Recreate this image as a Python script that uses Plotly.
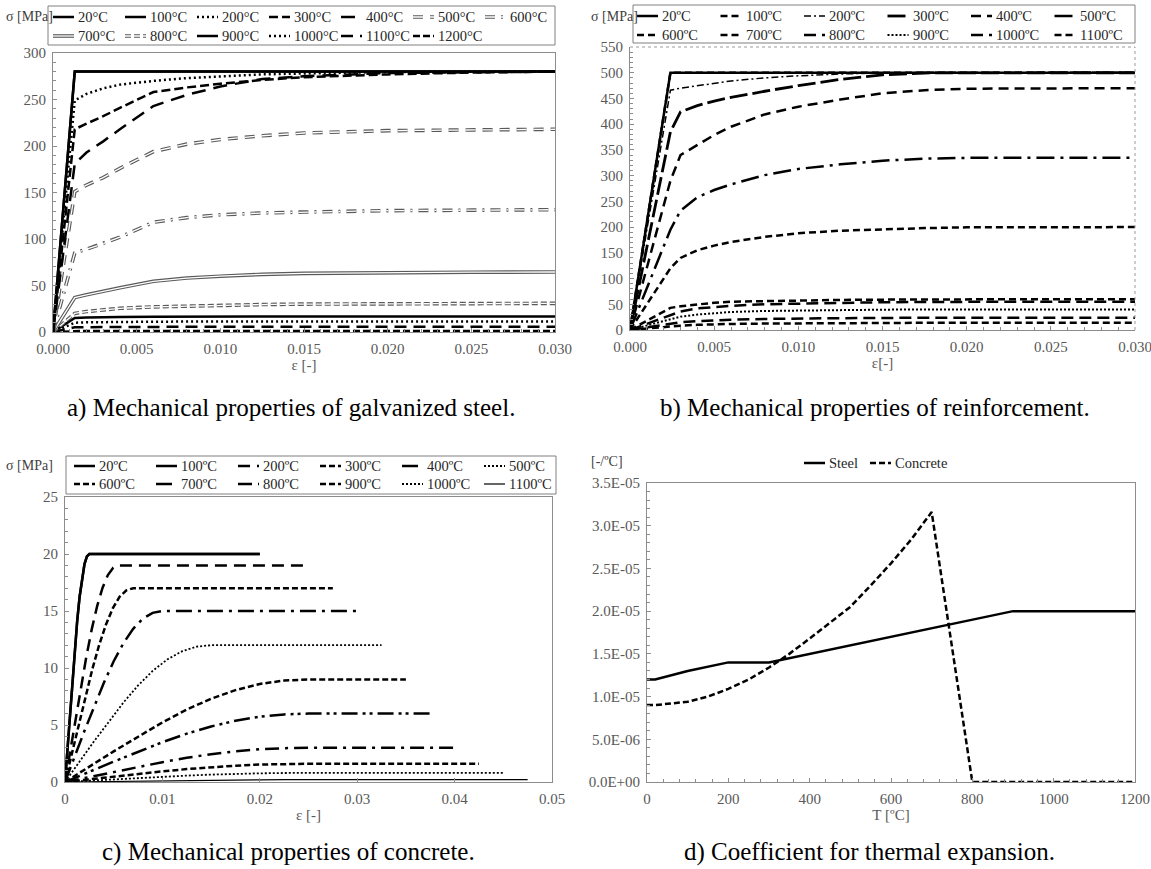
import plotly.graph_objects as go

W, H = 1151, 869
SERIF = "Liberation Serif, Times New Roman, DejaVu Serif, serif"
AXC = "#8c8c8c"
TXT = "#595959"

# ---------------- Panel a: galvanized steel ----------------
A_TEMPS = ["20°C", "100°C", "200°C", "300°C", "400°C", "500°C", "600°C",
           "700°C", "800°C", "900°C", "1000°C", "1100°C", "1200°C"]
A_STRAIN = [0, 0.0013, 0.002, 0.003, 0.004, 0.006, 0.008, 0.010, 0.0125, 0.015, 0.020, 0.025, 0.030]
A_20 = [0, 280, 280, 280, 280, 280, 280, 280, 280, 280, 280, 280, 280]
A_100 = [0, 280, 280, 280, 280, 280, 280, 280, 280, 280, 280, 280, 280]
A_200 = [0, 249, 256, 262, 266, 270, 273, 275, 277, 278, 279.5, 280, 280]
A_300 = [0, 218, 224, 232, 241, 258, 263, 267, 271, 274, 277, 279, 280]
A_400 = [0, 181, 193, 205, 218, 243, 255, 264, 272, 275, 278.5, 279.5, 280]
A_500 = [0, 151, 158, 166, 176, 194, 202, 207, 211, 214, 216.5, 217.5, 218]
A_600 = [0, 85, 89, 95, 102, 118, 123, 126, 128, 129, 130.5, 131, 131.5]
A_700 = [0, 37, 40, 44, 47.5, 54.5, 58, 60, 62, 63, 64, 64.3, 64.5]
A_800 = [0, 20, 22, 24, 25.5, 27, 28, 28.8, 29.5, 30, 30.4, 30.6, 30.8]
A_900 = [0, 15, 15.5, 16, 16.2, 16.5, 16.6, 16.7, 16.8, 16.8, 16.8, 16.8, 16.8]
A_1000 = [0, 10, 10.4, 10.7, 10.9, 11.1, 11.2, 11.2, 11.2, 11.2, 11.2, 11.2, 11.2]
A_1100 = [0, 5, 5.2, 5.4, 5.5, 5.6, 5.6, 5.6, 5.6, 5.6, 5.6, 5.6, 5.6]
A_1200 = [0, 1.2, 1.2, 1.2, 1.2, 1.2, 1.2, 1.2, 1.2, 1.2, 1.2, 1.2, 1.2]
A_SERIES = [A_20, A_100, A_200, A_300, A_400, A_500, A_600, A_700, A_800,
            A_900, A_1000, A_1100, A_1200]

# ---------------- Panel b: reinforcement ----------------
B_TEMPS = ["20ºC", "100ºC", "200ºC", "300ºC", "400ºC", "500ºC",
           "600ºC", "700ºC", "800ºC", "900ºC", "1000ºC", "1100ºC"]
B_STRAIN = [0, 0.0024, 0.003, 0.004, 0.005, 0.006, 0.008, 0.010, 0.0125, 0.015, 0.0175, 0.020, 0.025, 0.030]
B_20 = [0, 500, 500, 500, 500, 500, 500, 500, 500, 500, 500, 500, 500, 500]
B_100 = [0, 500, 500, 500, 500, 500, 500, 500, 500, 500, 500, 500, 500, 500]
B_200 = [0, 466, 470, 475, 480, 484, 490, 494, 497.5, 499.5, 500, 500, 500, 500]
B_300 = [0, 385, 424, 436, 445, 452, 464, 475, 487, 496, 499.5, 500, 500, 500]
B_400 = [0, 290, 340, 360, 379, 395, 419, 434, 448, 460, 466, 469, 470, 470]
B_500 = [0, 195, 232, 258, 272, 283, 301, 313, 322, 329, 333, 334.5, 335, 335]
B_600 = [0, 120, 140, 155, 164, 171, 181, 188, 193, 196, 198, 199.5, 200, 200]
B_700 = [0, 43, 46, 50, 53, 55, 56.5, 57.5, 58.5, 59, 59.5, 60, 60, 60]
B_800 = [0, 30, 36, 42, 45, 47, 50, 51.5, 53, 54, 54.5, 55, 55, 55]
B_900 = [0, 22, 26, 30, 33, 35, 37, 38, 39, 39.5, 40, 40, 40, 40]
B_1000 = [0, 13, 15, 17, 19, 20, 21.5, 22.5, 23, 23.5, 24, 24, 24, 24]
B_1100 = [0, 7, 8.5, 10, 11, 11.8, 12.5, 13, 13.5, 14, 14, 14, 14, 14]
B_SERIES = [B_20, B_100, B_200, B_300, B_400, B_500, B_600, B_700, B_800,
            B_900, B_1000, B_1100]

# ---------------- Panel c: concrete ----------------
C_TEMPS = ["20ºC", "100ºC", "200ºC", "300ºC", "400ºC", "500ºC",
           "600ºC", "700ºC", "800ºC", "900ºC", "1000ºC", "1100ºC"]
C_EPS_20 = [0, 0.0005, 0.001, 0.00125, 0.0015, 0.00175, 0.002, 0.00225, 0.0025, 0.02]
C_SIG_20 = [0, 5.98, 11.63, 14.12, 16.25, 17.93, 19.11, 19.79, 20, 20]
C_EPS_100 = [0, 0.0005, 0.001, 0.00125, 0.0015, 0.00175, 0.002, 0.00225, 0.0025, 0.02]
C_SIG_100 = [0, 5.98, 11.63, 14.12, 16.25, 17.93, 19.11, 19.79, 20, 20]
C_EPS_200 = [0, 0.0011, 0.0022, 0.00275, 0.0033, 0.00385, 0.0044, 0.00495, 0.0055, 0.025]
C_SIG_200 = [0, 5.68, 11.04, 13.41, 15.43, 17.02, 18.15, 18.79, 19, 19]
C_EPS_300 = [0, 0.0014, 0.0028, 0.0035, 0.0042, 0.0049, 0.0056, 0.0063, 0.007, 0.0275]
C_SIG_300 = [0, 5.08, 9.88, 12.0, 13.80, 15.23, 16.24, 16.81, 17, 17]
C_EPS_400 = [0, 0.002, 0.004, 0.005, 0.006, 0.007, 0.008, 0.009, 0.01, 0.03]
C_SIG_400 = [0, 4.49, 8.72, 10.59, 12.18, 13.44, 14.33, 14.84, 15, 15]
C_EPS_500 = [0, 0.003, 0.006, 0.0075, 0.009, 0.0105, 0.012, 0.0135, 0.015, 0.0325]
C_SIG_500 = [0, 3.59, 6.97, 8.47, 9.74, 10.75, 11.46, 11.87, 12, 12]
C_EPS_600 = [0, 0.005, 0.01, 0.0125, 0.015, 0.0175, 0.02, 0.0225, 0.025, 0.035]
C_SIG_600 = [0, 2.69, 5.23, 6.35, 7.31, 8.06, 8.60, 8.90, 9, 9]
C_EPS_700 = [0, 0.005, 0.01, 0.0125, 0.015, 0.0175, 0.02, 0.0225, 0.025, 0.0375]
C_SIG_700 = [0, 1.79, 3.49, 4.24, 4.87, 5.38, 5.73, 5.93, 6, 6]
C_EPS_800 = [0, 0.005, 0.01, 0.0125, 0.015, 0.0175, 0.02, 0.0225, 0.025, 0.04]
C_SIG_800 = [0, 0.90, 1.74, 2.12, 2.44, 2.69, 2.87, 2.97, 3, 3]
C_EPS_900 = [0, 0.005, 0.01, 0.0125, 0.015, 0.0175, 0.02, 0.0225, 0.025, 0.0425]
C_SIG_900 = [0, 0.48, 0.93, 1.13, 1.30, 1.43, 1.53, 1.58, 1.6, 1.6]
C_EPS_1000 = [0, 0.005, 0.01, 0.0125, 0.015, 0.0175, 0.02, 0.0225, 0.025, 0.045]
C_SIG_1000 = [0, 0.24, 0.46, 0.56, 0.65, 0.72, 0.76, 0.79, 0.8, 0.8]
C_EPS_1100 = [0, 0.005, 0.01, 0.0125, 0.015, 0.0175, 0.02, 0.0225, 0.025, 0.0475]
C_SIG_1100 = [0, 0.06, 0.12, 0.14, 0.16, 0.18, 0.19, 0.2, 0.2, 0.2]
C_SERIES = [(C_EPS_20, C_SIG_20), (C_EPS_100, C_SIG_100), (C_EPS_200, C_SIG_200),
            (C_EPS_300, C_SIG_300), (C_EPS_400, C_SIG_400), (C_EPS_500, C_SIG_500),
            (C_EPS_600, C_SIG_600), (C_EPS_700, C_SIG_700), (C_EPS_800, C_SIG_800),
            (C_EPS_900, C_SIG_900), (C_EPS_1000, C_SIG_1000), (C_EPS_1100, C_SIG_1100)]

# ---------------- Panel d: thermal expansion ----------------
D_NAMES = ["Steel", "Concrete"]
D_T_STEEL = [0, 20, 100, 200, 300, 900, 1200]
D_STEEL = [1.2e-5, 1.2e-5, 1.3e-5, 1.4e-5, 1.4e-5, 2.0e-5, 2.0e-5]
D_T_CONC = [0, 20, 100, 150, 200, 250, 300, 350, 400, 450, 500, 550, 600, 650, 700, 800, 1200]
D_CONC = [9.0e-6, 9.0e-6, 9.4e-6, 10.0e-6, 10.9e-6, 12.0e-6, 13.4e-6, 15.0e-6, 16.8e-6,
          18.6e-6, 20.5e-6, 23.0e-6, 25.6e-6, 28.4e-6, 31.6e-6, 0.0, 0.0]
D_YTICKS = [0, 5e-6, 1e-5, 1.5e-5, 2e-5, 2.5e-5, 3e-5, 3.5e-5]
D_YTEXT = ["0.0E+00", "5.0E-06", "1.0E-05", "1.5E-05", "2.0E-05", "2.5E-05", "3.0E-05", "3.5E-05"]

CAPTIONS = ["a) Mechanical properties of galvanized steel.",
            "b) Mechanical properties of reinforcement.",
            "c) Mechanical properties of concrete.",
            "d) Coefficient for thermal expansion."]

# ---------------- styles: (color, width, dash, double) ----------------
K = "#000000"
G = "#5a5a5a"
DOT = "2px,3px"
A_STYLE = [
    (K, 2.5, "solid", False), (K, 2.5, "solid", False), (K, 2.5, DOT, False),
    (K, 2.5, "9px,4px", False), (K, 2.5, "14px,8px", False), (G, 3.6, "10px,7px", True),
    (G, 3.6, "10px,6px,2px,6px", True), (G, 3.6, "solid", True), (G, 3.6, "6px,3px", True),
    (K, 2.5, "solid", False), (K, 2.5, DOT, False), (K, 2.5, "12px,7px", False),
    (K, 2.5, "7px,3px", False)]
B_STYLE = [
    (K, 2.5, "solid", False), (K, 2.5, "7px,4px", False), (K, 1.5, "7px,3px,2px,3px", False),
    (K, 2.8, "18px,5px", False), (K, 2.5, "10px,6px", False), (K, 2.5, "18px,6px,3px,6px", False),
    (K, 2.5, "7px,4px", False), (K, 2.5, "7px,4px", False), (K, 2.5, "12px,6px", False),
    (K, 2.0, "2px,2px", False), (K, 2.5, "12px,6px", False), (K, 2.5, "7px,4px", False)]
C_STYLE = [
    (K, 2.5, "solid", False), (K, 2.5, "solid", False), (K, 2.5, "12px,7px", False),
    (K, 2.5, "6px,3px", False), (K, 2.5, "16px,6px,3px,6px", False), (K, 1.8, "2px,2px", False),
    (K, 2.5, "6px,3px", False), (K, 2.5, "16px,5px,3px,4px,3px,5px", False),
    (K, 2.5, "14px,6px,3px,6px", False), (K, 2.5, "6px,3px", False), (K, 1.8, "2px,2px", False),
    (K, 1.2, "solid", False)]
D_STYLE = [(K, 2.5, "solid", False), (K, 2.5, "6px,3px", False)]

fig = go.Figure()


def add_series(xs, ys, style, xa, ya, name):
    color, width, dash, double = style
    fig.add_trace(go.Scatter(x=xs, y=ys, mode="lines", name=name, xaxis=xa, yaxis=ya,
                             line=dict(color=color, width=width, dash=dash),
                             showlegend=False, hoverinfo="skip"))
    if double:
        fig.add_trace(go.Scatter(x=xs, y=ys, mode="lines", name=name, xaxis=xa, yaxis=ya,
                                 line=dict(color="white", width=1.3, dash=dash),
                                 showlegend=False, hoverinfo="skip"))


for i in reversed(range(len(A_TEMPS))):
    add_series(A_STRAIN, A_SERIES[i], A_STYLE[i], "x", "y", A_TEMPS[i])
for i in reversed(range(len(B_TEMPS))):
    add_series(B_STRAIN, B_SERIES[i], B_STYLE[i], "x2", "y2", B_TEMPS[i])
for i in reversed(range(len(C_TEMPS))):
    add_series(C_SERIES[i][0], C_SERIES[i][1], C_STYLE[i], "x3", "y3", C_TEMPS[i])
add_series(D_T_CONC, D_CONC, D_STYLE[1], "x4", "y4", D_NAMES[1])
add_series(D_T_STEEL, D_STEEL, D_STYLE[0], "x4", "y4", D_NAMES[0])

shapes = []
annotations = []


def px(x):
    return x / W


def py(y):
    return 1 - y / H


def add_sample(x, y, style, length=21):
    color, width, dash, double = style
    shapes.append(dict(type="line", xref="paper", yref="paper", x0=px(x), x1=px(x + length),
                       y0=py(y), y1=py(y), line=dict(color=color, width=width, dash=dash)))
    if double:
        shapes.append(dict(type="line", xref="paper", yref="paper", x0=px(x), x1=px(x + length),
                           y0=py(y), y1=py(y), line=dict(color="white", width=1.3, dash=dash)))


def legend_block(labels, styles, x0, y0, pitch, rowh, ncol, box=None, sample=21, gap=2):
    for i, (lab, st) in enumerate(zip(labels, styles)):
        r, c = divmod(i, ncol)
        x = x0 + c * pitch
        y = y0 + r * rowh
        add_sample(x, y, st, sample)
        annotations.append(dict(x=px(x + sample + gap), y=py(y), xref="paper", yref="paper",
                                text=lab, showarrow=False, xanchor="left", yanchor="middle",
                                font=dict(family=SERIF, size=14.5, color="#262626")))
    if box:
        bx0, by0, bx1, by1 = box
        shapes.append(dict(type="rect", xref="paper", yref="paper", x0=px(bx0), x1=px(bx1),
                           y0=py(by1), y1=py(by0), line=dict(color="#808080", width=1)))


legend_block(A_TEMPS, A_STYLE, 53, 17, 72, 19, 7, box=(48, 6, 555, 45))
legend_block(B_TEMPS, B_STYLE, 637, 16, 83.5, 19, 6, box=(633, 5, 1135, 43))
legend_block(C_TEMPS, C_STYLE, 74, 466, 82, 18, 6, box=(66, 456, 556, 494))
legend_block(D_NAMES, D_STYLE, 804, 463, 66, 18, 2, box=None)


def label(text, x, y, size=14, anchor="left", color="#404040"):
    annotations.append(dict(x=px(x), y=py(y), xref="paper", yref="paper", text=text,
                            showarrow=False, xanchor=anchor, yanchor="middle",
                            font=dict(family=SERIF, size=size, color=color)))


label("σ [MPa]", 4, 17)
label("σ [MPa]", 589, 17)
label("σ [MPa]", 4, 466)
label("[-/ºC]", 589, 462)
label(CAPTIONS[0], 291, 408, size=25, anchor="center", color="#000000")
label(CAPTIONS[1], 875, 408, size=25, anchor="center", color="#000000")
label(CAPTIONS[2], 289, 852, size=25, anchor="center", color="#000000")
label(CAPTIONS[3], 869, 852, size=25, anchor="center", color="#000000")

# dotted top/right border for panel b
shapes.append(dict(type="line", xref="x2 domain", yref="y2 domain", x0=0, x1=1, y0=1, y1=1,
                   line=dict(color="#9a9a9a", width=1, dash="dot")))
shapes.append(dict(type="line", xref="x2 domain", yref="y2 domain", x0=1, x1=1, y0=0, y1=1,
                   line=dict(color="#9a9a9a", width=1, dash="dot")))

TF = dict(family=SERIF, size=15, color=TXT)


def ax(domain, anchor, rng, dtick, minor=None, mirror=True, title=None, **kw):
    d = dict(domain=domain, anchor=anchor, range=rng, dtick=dtick, tick0=0,
             showline=True, linecolor=AXC, linewidth=1, mirror=mirror,
             ticks="inside", ticklen=4, tickcolor=AXC, showgrid=False, zeroline=False,
             tickfont=TF, fixedrange=True, automargin=False, ticklabelstandoff=3,
             ticklabeloverflow="allow")
    if minor is not None:
        d["minor"] = dict(dtick=minor, ticks="inside", ticklen=3, tickcolor=AXC, showgrid=False)
    if title is not None:
        d["title"] = dict(text=title, font=dict(family=SERIF, size=15, color=TXT), standoff=3)
    d.update(kw)
    return d


fig.update_layout(
    width=W, height=H, margin=dict(l=0, r=0, t=0, b=0, pad=0, autoexpand=False),
    paper_bgcolor="white", plot_bgcolor="white", showlegend=False,
    xaxis=ax([53 / W, 555 / W], "y", [0, 0.03], 0.005, minor=0.001, title="ε [-]", tickformat=".3f"),
    yaxis=ax([1 - 332 / H, 1 - 53 / H], "x", [0, 300], 50, minor=10),
    xaxis2=ax([630 / W, 1135 / W], "y2", [0, 0.03], 0.005, minor=0.001, mirror=False,
              title="ε[-]", tickformat=".3f"),
    yaxis2=ax([1 - 330 / H, 1 - 47 / H], "x2", [0, 550], 50, minor=10, mirror=False),
    xaxis3=ax([65 / W, 552 / W], "y3", [0, 0.05], 0.01, title="ε [-]"),
    yaxis3=ax([1 - 782 / H, 1 - 497 / H], "x3", [0, 25], 5, minor=1),
    xaxis4=ax([647 / W, 1135 / W], "y4", [0, 1200], 200, minor=40, title="T [ºC]"),
    yaxis4=ax([1 - 782 / H, 1 - 483 / H], "x4", [0, 3.5e-5], None, minor=1e-6,
              tickmode="array", tickvals=D_YTICKS, ticktext=D_YTEXT),
    shapes=shapes, annotations=annotations,
)

fig.write_html("out.html")
